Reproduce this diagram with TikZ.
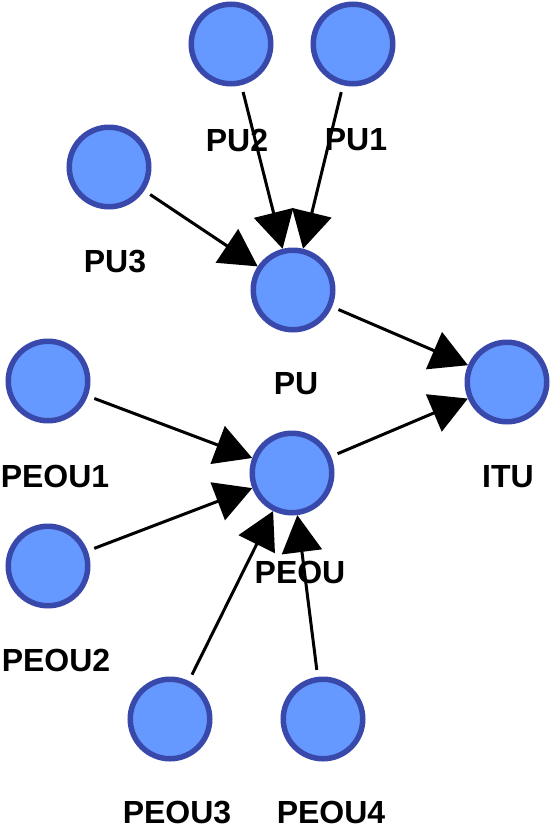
\documentclass[tikz,border=0pt]{standalone}
\usepackage{fontspec}
\setmainfont{Liberation Sans}
\usepackage{xcolor}
\usepackage{tikz}
\usetikzlibrary{arrows.meta}

\definecolor{circFill}{HTML}{6699FF}
\definecolor{circLine}{HTML}{3949AB}

\begin{document}
\begin{tikzpicture}[x=1pt, y=-1pt,
                    construct/.style={
                         circle, draw=circLine, fill=circFill,
                         line width=5.5pt, minimum size=79.5pt, inner sep=0pt
                         },
                    constructName/.style={
                         font=\fontsize{32}{36}\selectfont\bfseries, inner sep=0pt
                         },
                    path/.style={
                         -{Triangle[length=37pt,width=40pt]}, line width=3pt,
                         shorten <=7pt
                         }
                    ]
  \useasboundingbox (0,0) rectangle (550,828);

  \node[construct] (PU2)   at (231,44)  {};
  \node[construct] (PU1)   at (353,44)  {};
  \node[construct] (PU3)   at (109,167) {};
  \node[construct] (PU)    at (293,290) {};
  \node[construct] (ITU)   at (507,382) {};
  \node[construct] (PEOU1) at (48,381)  {};
  \node[construct] (PEOU)  at (292,473) {};
  \node[construct] (PEOU2) at (48,566)  {};
  \node[construct] (PEOU3) at (170,719) {};
  \node[construct] (PEOU4) at (323,719) {};

  \node[constructName] (namePU2)   at (237,140) {PU2};
  \node[constructName] (namePU1)   at (356,140) {PU1};
  \node[constructName] (namePU3)   at (115,262) {PU3};
  \node[constructName] (namePU)    at (296,384) {PU};
  \node[constructName] (nameITU)   at (508,477) {ITU};
  \node[constructName] (namePEOU1) at (55,476)  {PEOU1};
  \node[constructName] (namePEOU)  at (300,572) {PEOU};
  \node[constructName] (namePEOU2) at (56,660)  {PEOU2};
  \node[constructName] (namePEOU3) at (177,812) {PEOU3};
  \node[constructName] (namePEOU4) at (331,812) {PEOU4};

  \draw[path] (PU2) -- (PU);
  \draw[path] (PU1) -- (PU);
  \draw[path] (PU3) -- (PU);
  \draw[path] (PU) -- (ITU);
  \draw[path] (PEOU) -- (ITU);
  \draw[path] (PEOU1) -- (PEOU);
  \draw[path] (PEOU2) -- (PEOU);
  \draw[path] (PEOU3) -- (PEOU);
  \draw[path] (PEOU4) -- (PEOU);
\end{tikzpicture}
\end{document}
